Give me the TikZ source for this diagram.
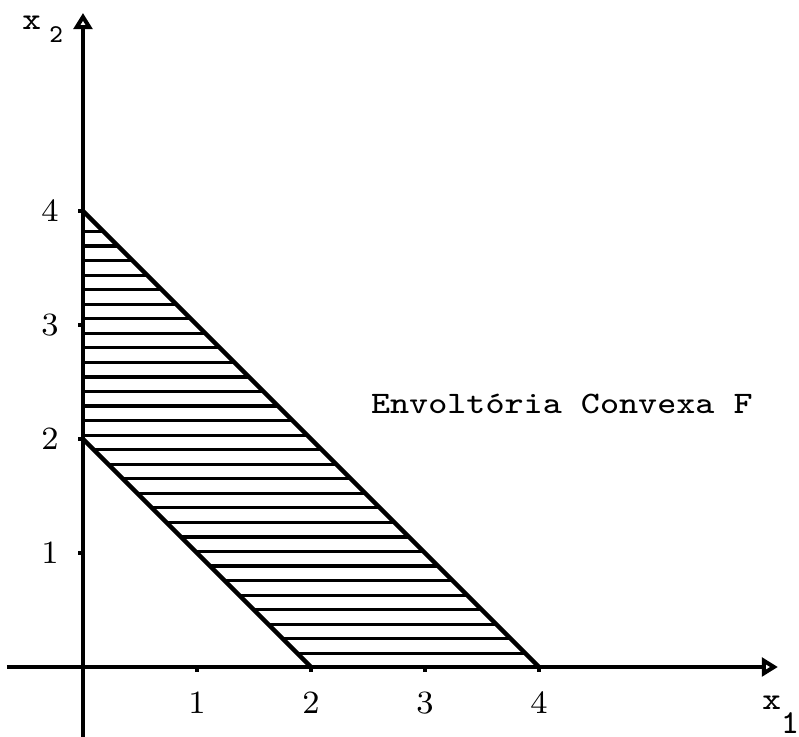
\documentclass[tikz,border=0pt]{standalone}
\usepackage{fontspec}
\usetikzlibrary{arrows.meta}
\newcommand{\typew}[1]{\scalebox{1.15}[1]{#1}}
\begin{document}
\begin{tikzpicture}[x=1cm, y=1cm,
    axis/.style={line width=1pt, -{Triangle[open, length=4pt, width=4.6pt]}},
    bound/.style={line width=1.1pt},
    hatch/.style={line width=0.8pt},
    tickmark/.style={line width=0.8pt},
    num/.style={inner sep=0pt, font=\fontsize{8.1}{10}\selectfont},
    tt/.style={inner sep=0pt, font=\ttfamily\fontsize{7.8}{10}\selectfont}]
  \useasboundingbox (-0.728,-0.614) rectangle (6.281,5.851);
  % axes
  \coordinate (xs) at (-0.667,0);
  \coordinate (xe) at (6.096,0);
  \coordinate (ys) at (0,-0.62);
  \coordinate (ye) at (0,5.737);
  \draw[axis] (xs) -- (xe);
  \draw[axis] (ys) -- (ye);
  \node[tt, anchor=base west] (xtwo) at (-0.54,5.588) {\typew{x}\hspace{2pt}\raisebox{-3.2pt}{\fontsize{6.4}{7}\selectfont 2}};
  \node[tt, anchor=base west] (xone) at (5.95,-0.377) {\typew{x}\raisebox{-5.8pt}{\fontsize{8.4}{9}\selectfont 1}};
  % ticks
  \foreach \i in {1,...,4} {
    \draw[tickmark] (\i,0) -- (\i,-0.04);
    \draw[tickmark] (0,\i) -- (-0.04,\i);
    \node[num] (tx\i) at (\i,-0.316) {\i};
    \node[num] (ty\i) at (-0.29,\i) {\i};
  }
  % hatched region
  \begin{scope}
    \clip (0,2) -- (0,4) -- (4,0) -- (2,0) -- cycle;
    \foreach \k in {0,...,29}
      \draw[hatch] (-0.1,0.12+\k*0.1276) -- (4.2,0.12+\k*0.1276);
  \end{scope}
  \coordinate (a) at (0,4);
  \coordinate (b) at (4,0);
  \coordinate (c) at (0,2);
  \coordinate (d) at (2,0);
  \draw[bound] (a) -- (b);
  \draw[bound] (c) -- (d);
  \node[tt, anchor=base west] (conv) at (2.52,2.228) {\typew{Envoltória Convexa F}};
\end{tikzpicture}
\end{document}
